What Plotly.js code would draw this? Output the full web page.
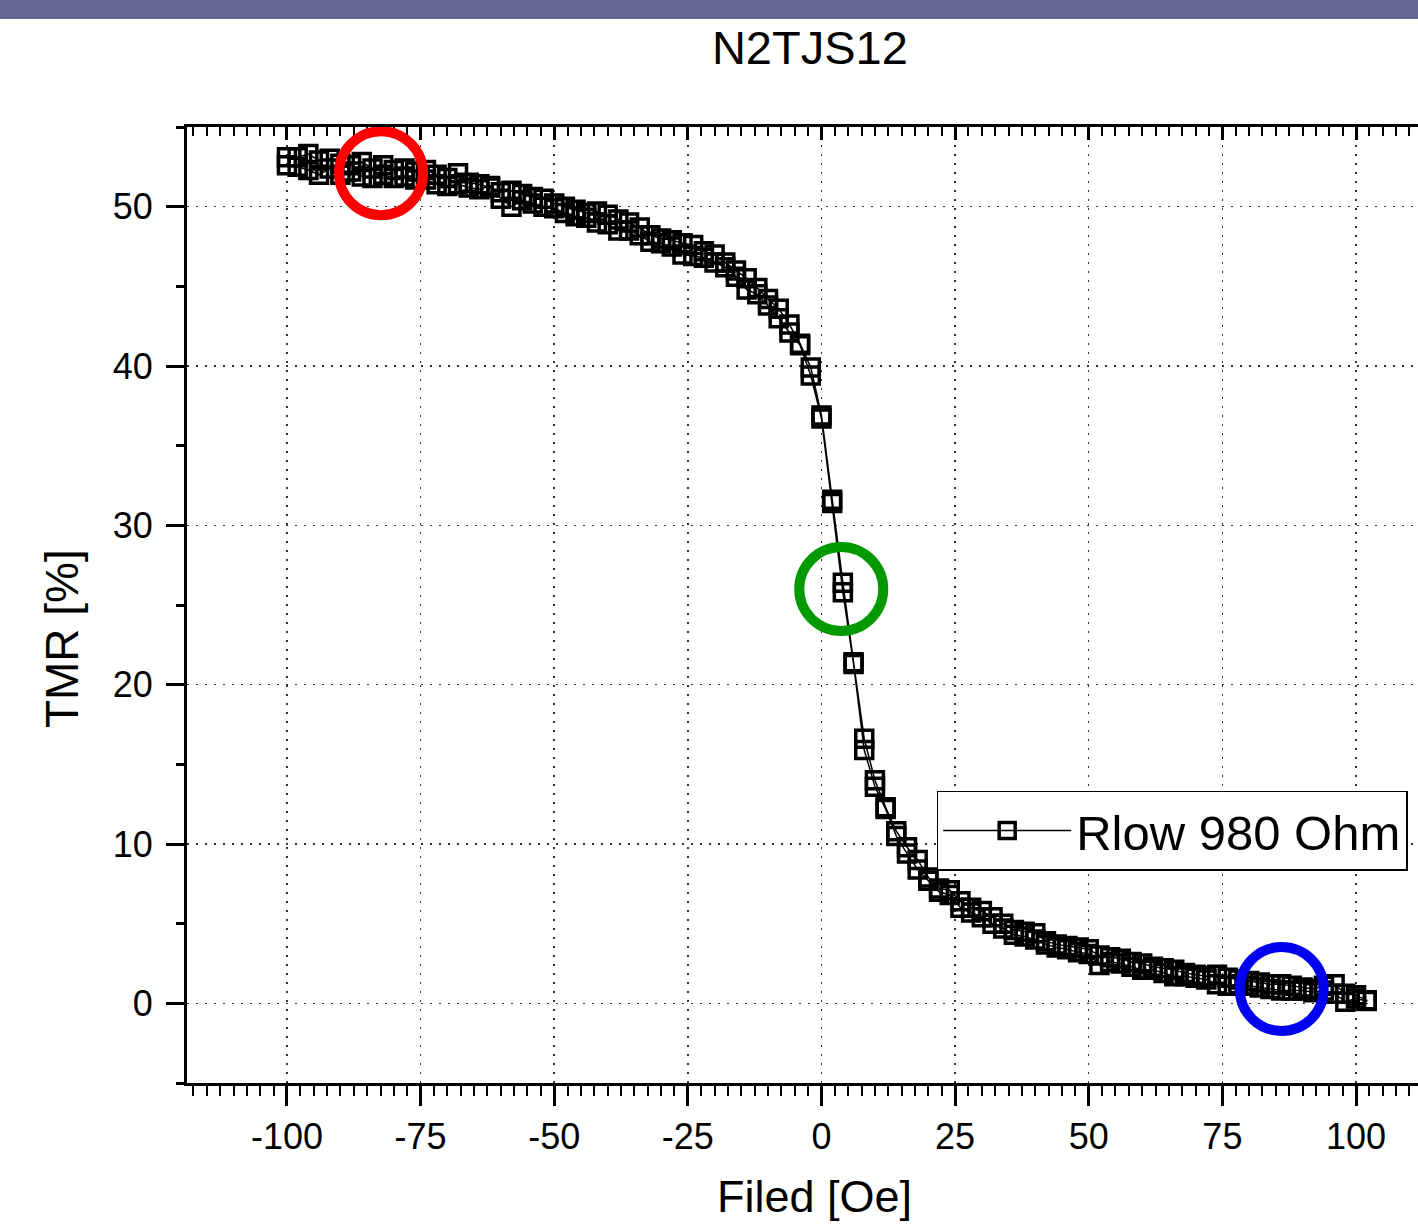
<!DOCTYPE html>
<html>
<head>
<meta charset="utf-8">
<script src="https://cdn.plot.ly/plotly-3.0.1.min.js"></script>
<style>
  html, body { margin: 0; padding: 0; background: #ffffff; }
  #chart { width: 1418px; height: 1227px; }
</style>
</head>
<body>
<div id="chart"></div>
<script>
// ---- data ----
const chartTitle = "N2TJS12";
const xTitle = "Filed [Oe]";
const yTitle = "TMR [%]";
const seriesName = "Rlow 980 Ohm";

// field values (Oe)
const field = [
  -100, -98, -96, -94, -92, -90, -88, -86, -84, -82,
  -80, -78, -76, -74, -72, -70, -68, -66, -64, -62,
  -60, -58, -56, -54, -52, -50, -48, -46, -44, -42,
  -40, -38, -36, -34, -32, -30, -28, -26, -24, -22,
  -20, -18, -16, -14, -12, -10, -8, -6, -4, -2,
  0, 2, 4, 6, 8, 10, 12, 14, 16, 18,
  20, 22, 24, 26, 28, 30, 32, 34, 36, 38,
  40, 42, 44, 46, 48, 50, 52, 54, 56, 58,
  60, 62, 64, 66, 68, 70, 72, 74, 76, 78,
  80, 82, 84, 86, 88, 90, 92, 94, 96, 98,
  100, 102
];

// TMR (%) – sweep 1 (same order as field)
const tmrSweep1 = [
  53.1, 53.1, 53.3, 52.9, 53.0, 52.7, 52.6, 52.8, 52.4, 52.6,
  52.3, 52.4, 52.2, 52.3, 52.0, 51.8, 52.1, 51.5, 51.4, 51.2,
  50.9, 51.0, 50.8, 50.6, 50.5, 50.2, 50.0, 49.8, 49.6, 49.7,
  49.5, 49.2, 49.0, 48.7, 48.2, 48.0, 47.9, 47.7, 47.6, 47.2,
  47.0, 46.5, 46.0, 45.5, 44.9, 44.2, 43.6, 42.6, 41.4, 39.9,
  36.9, 31.6, 26.4, 21.4, 16.6, 14.0, 12.3, 10.8, 9.8, 9.0,
  7.9, 7.2, 7.1, 6.4, 6.0, 5.8, 5.4, 5.0, 4.6, 4.5,
  4.4, 3.9, 3.7, 3.6, 3.5, 3.4, 3.0, 2.9, 2.8, 2.6,
  2.5, 2.3, 2.2, 2.1, 1.9, 1.8, 1.7, 1.8, 1.6, 1.5,
  1.4, 1.3, 1.2, 1.2, 1.1, 1.0, 0.9, 1.1, 1.2, 0.6,
  0.5, 0.2
];

// TMR (%) – sweep 2 (same field order as above)
const tmrSweep2 = [
  52.6, 52.5, 52.3, 52.0, 52.4, 52.0, 52.2, 51.9, 51.8, 52.0,
  51.8, 51.9, 51.7, 51.7, 51.4, 51.3, 51.4, 51.2, 51.1, 51.3,
  50.5, 50.0, 50.4, 50.2, 50.0, 49.9, 49.6, 49.4, 49.3, 49.0,
  48.9, 48.5, 48.5, 48.2, 47.8, 47.7, 47.5, 47.0, 46.9, 46.8,
  46.5, 46.2, 45.6, 44.8, 44.5, 43.8, 43.0, 42.1, 41.3, 39.4,
  36.7, 31.4, 25.8, 21.3, 15.9, 13.6, 12.2, 10.5, 9.4, 8.4,
  7.7, 7.0, 6.8, 6.0, 5.7, 5.4, 5.0, 4.7, 4.3, 4.2,
  4.0, 3.7, 3.5, 3.4, 3.2, 3.1, 2.4, 2.6, 2.5, 2.3,
  2.1, 2.1, 1.9, 1.7, 1.7, 1.6, 1.5, 1.2, 1.1, 1.2,
  1.1, 1.0, 0.9, 0.8, 0.8, 0.8, 0.7, 0.8, 0.6, 0.1,
  0.3, 0.15
];

// highlight circles (data coordinates of their centres) and colours
const circleX = [-82.4, 3.7, 86.1];
const circleY = [52.1, 26.0, 0.9];
const circleColors = ["#ff0000", "#009a00", "#0000f0"];

// ---- build the figure ----
const xAll = field.concat(field.slice().reverse());
const yAll = tmrSweep1.concat(tmrSweep2.slice().reverse());

const FONT = "Liberation Sans, Arial, sans-serif";

const trace = {
  type: "scatter",
  mode: "lines+markers",
  name: seriesName,
  x: xAll,
  y: yAll,
  line: { color: "#000000", width: 1.5 },
  marker: { symbol: "square", size: 17, color: "rgba(0,0,0,0)", line: { width: 3.5, color: "#000000" } },
  cliponaxis: false
};

const circleShapes = circleX.map((cx, i) => ({
  type: "circle",
  xref: "x", yref: "y",
  xsizemode: "pixel", ysizemode: "pixel",
  xanchor: cx, yanchor: circleY[i],
  x0: -42, x1: 42, y0: -42, y1: 42,
  line: { color: circleColors[i], width: 10 },
  layer: "above"
}));

const topBand = {
  type: "rect", xref: "paper", yref: "paper",
  x0: -0.16, x1: 1.01, y0: 1.1130, y1: 1.14,
  fillcolor: "#676797", line: { width: 0 }, layer: "above"
};

const gridStyle = { showgrid: true, gridcolor: "#333333", gridwidth: 1.5, griddash: "2px,7px" };

const layout = {
  width: 1418, height: 1227,
  margin: { l: 187, r: 0, t: 127, b: 144, pad: 0 },
  paper_bgcolor: "#ffffff", plot_bgcolor: "#ffffff",
  font: { family: FONT, color: "#000000" },
  showlegend: true,
  title: {
    text: chartTitle,
    font: { family: FONT, size: 47, color: "#000000" },
    xref: "paper", x: 0.506, xanchor: "center",
    yref: "container", y: 0.961, yanchor: "middle"
  },
  xaxis: Object.assign({
    range: [-118.7, 111.6],
    tickmode: "array",
    tickvals: [-100, -75, -50, -25, 0, 25, 50, 75, 100],
    ticktext: ["-100", "-75", "-50", "-25", "0", "25", "50", "75", "100"],
    ticks: "outside", ticklen: 20, tickwidth: 3, tickcolor: "#000000",
    minor: { dtick: 2.5, tick0: 0, ticks: "outside", ticklen: 10, tickwidth: 2, tickcolor: "#000000", showgrid: false },
    showline: true, linewidth: 3, linecolor: "#000000",
    zeroline: false,
    tickfont: { family: FONT, size: 36, color: "#000000" },
    ticklabelstandoff: 0,
    fixedrange: true
  }, gridStyle),
  xaxis2: {
    overlaying: "x", side: "top", anchor: "y",
    range: [-118.7, 111.6],
    tickmode: "array",
    tickvals: [-100, -75, -50, -25, 0, 25, 50, 75, 100],
    ticks: "inside", ticklen: 13, tickwidth: 3, tickcolor: "#000000",
    minor: { dtick: 2.5, tick0: 0, ticks: "inside", ticklen: 9, tickwidth: 2, tickcolor: "#000000", showgrid: false },
    showline: true, linewidth: 3, linecolor: "#000000",
    showticklabels: false, showgrid: false, zeroline: false
  },
  yaxis: Object.assign({
    range: [-5, 55],
    tickmode: "array",
    tickvals: [0, 10, 20, 30, 40, 50],
    ticktext: ["0", "10", "20", "30", "40", "50"],
    ticks: "outside", ticklen: 18, tickwidth: 3, tickcolor: "#000000",
    minor: { dtick: 5, tick0: 0, ticks: "outside", ticklen: 8, tickwidth: 3, tickcolor: "#000000", showgrid: false },
    showline: true, linewidth: 3, linecolor: "#000000",
    zeroline: false,
    tickfont: { family: FONT, size: 36, color: "#000000" },
    ticklabelstandoff: 6,
    fixedrange: true
  }, gridStyle),
  annotations: [
    {
      text: xTitle, showarrow: false,
      xref: "paper", yref: "paper", x: 0.510, y: -0.1192,
      xanchor: "center", yanchor: "middle",
      font: { family: FONT, size: 45, color: "#000000" }
    },
    {
      text: yTitle, showarrow: false, textangle: -90,
      xref: "paper", yref: "paper", x: -0.1015, y: 0.4644,
      xanchor: "center", yanchor: "middle",
      font: { family: FONT, size: 46, color: "#000000" }
    }
  ],
  legend: {
    x: 0.609, y: 0.264, xanchor: "left", yanchor: "middle",
    bgcolor: "#ffffff", bordercolor: "#000000", borderwidth: 1.5,
    font: { family: FONT, size: 49, color: "#000000" },
    itemwidth: 128
  },
  shapes: circleShapes.concat([topBand])
};

const dummyTop = { type: "scatter", x: [], y: [], xaxis: "x2", yaxis: "y", showlegend: false, hoverinfo: "skip" };

Plotly.newPlot("chart", [trace, dummyTop], layout, { displayModeBar: false, staticPlot: true });
</script>
</body>
</html>
